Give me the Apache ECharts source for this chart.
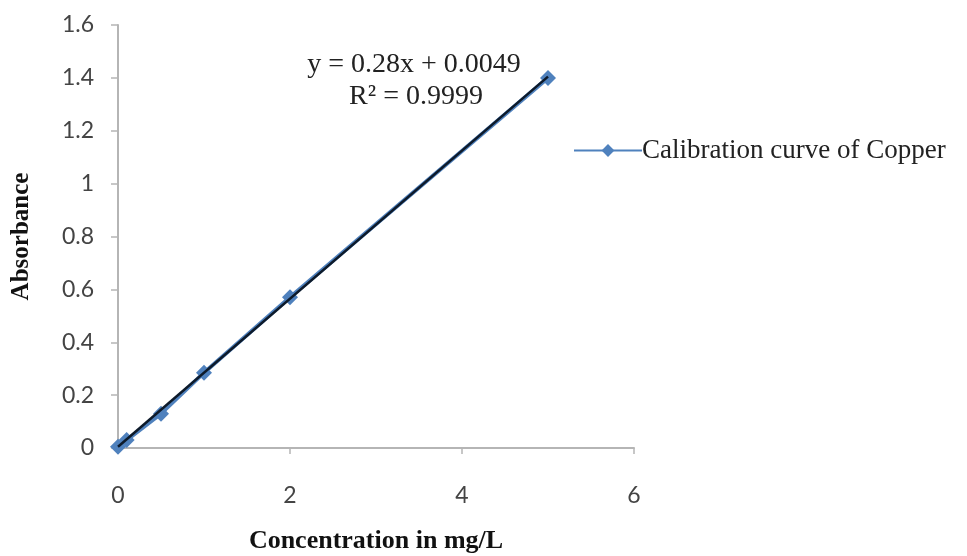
<!DOCTYPE html>
<html><head><meta charset="utf-8">
<script src="https://cdn.jsdelivr.net/npm/echarts@6/dist/echarts.min.js"></script>
<style>html,body{margin:0;padding:0;background:#fff}#c{width:967px;height:556px}</style>
</head><body><div id="c"></div>
<script>
const concentration = [0, 0.1, 0.5, 1, 2, 5];
const absorbance = [0.005, 0.03, 0.13, 0.285, 0.57, 1.40];
const trendX = [0, 5];
const trendY = [0.0049, 1.4049];
const xTicks = [0, 2, 4, 6];
const yTicks = [0, 0.2, 0.4, 0.6, 0.8, 1, 1.2, 1.4, 1.6];
const seriesName = 'Calibration curve of Copper';
const equationText = 'y = 0.28x + 0.0049';
const r2Text = 'R\u00B2 = 0.9999';

const chart = echarts.init(document.getElementById('c'));
chart.setOption({
  animation: false,
  backgroundColor: '#fff',
  grid: {left: 118, right: 333, top: 25, bottom: 108, containLabel: false, outerBoundsMode: 'none'},
  title: [
    {text: equationText, left: 409, top: 46, textAlign: 'center',
     textStyle: {fontFamily: 'Liberation Serif', fontSize: 28, fontWeight: 'normal', color: '#222'}},
    {text: r2Text, left: 411, top: 78, textAlign: 'center',
     textStyle: {fontFamily: 'Liberation Serif', fontSize: 28, fontWeight: 'normal', color: '#222'}}
  ],
  legend: {
    left: 568, top: 132, itemWidth: 68, itemHeight: 16, itemGap: 4,
    data: [{name: seriesName}],
    textStyle: {fontFamily: 'Liberation Serif', fontSize: 27, color: '#222', padding: [0,0,0,-5]}
  },
  xAxis: {
    type: 'value', min: 0, max: 6, interval: 2,
    name: 'Concentration in mg/L', nameLocation: 'middle', nameGap: 80,
    nameTextStyle: {fontFamily: 'Liberation Serif', fontSize: 26, fontWeight: 'bold', color: '#111'},
    axisLine: {show: true, lineStyle: {color: '#b5b5b5', width: 2}},
    axisTick: {show: true, inside: false, length: 6, lineStyle: {color: '#b5b5b5', width: 1.5}},
    axisLabel: {margin: 36, fontFamily: 'Lato', fontSize: 23, color: '#444',
      formatter: v => xTicks.includes(v) ? String(v) : ''},
    splitLine: {show: false}
  },
  yAxis: {
    type: 'value', min: 0, max: 1.6, interval: 0.2,
    name: 'Absorbance', nameLocation: 'middle', nameGap: 84, nameRotate: 90,
    nameTextStyle: {fontFamily: 'Liberation Serif', fontSize: 25, fontWeight: 'bold', color: '#111'},
    axisLine: {show: true, lineStyle: {color: '#b5b5b5', width: 2}},
    axisTick: {show: true, length: 7, lineStyle: {color: '#b5b5b5', width: 1.5}},
    axisLabel: {margin: 24, fontFamily: 'Lato', fontSize: 23, color: '#444',
      formatter: v => { const t = yTicks.find(k => Math.abs(k - v) < 1e-9); return t === undefined ? '' : String(t); }},
    splitLine: {show: false}
  },
  series: [
    {
      name: seriesName, type: 'line',
      data: concentration.map((x, i) => [x, absorbance[i]]),
      symbol: 'diamond', symbolSize: 16,
      itemStyle: {color: '#4F81BD'},
      lineStyle: {color: '#4F81BD', width: 4},
      z: 2
    },
    {
      name: 'trend', type: 'line',
      data: trendX.map((x, i) => [x, trendY[i]]),
      symbol: 'none',
      lineStyle: {color: '#0d1a2a', width: 2.5},
      z: 3
    }
  ]
});
</script></body></html>
